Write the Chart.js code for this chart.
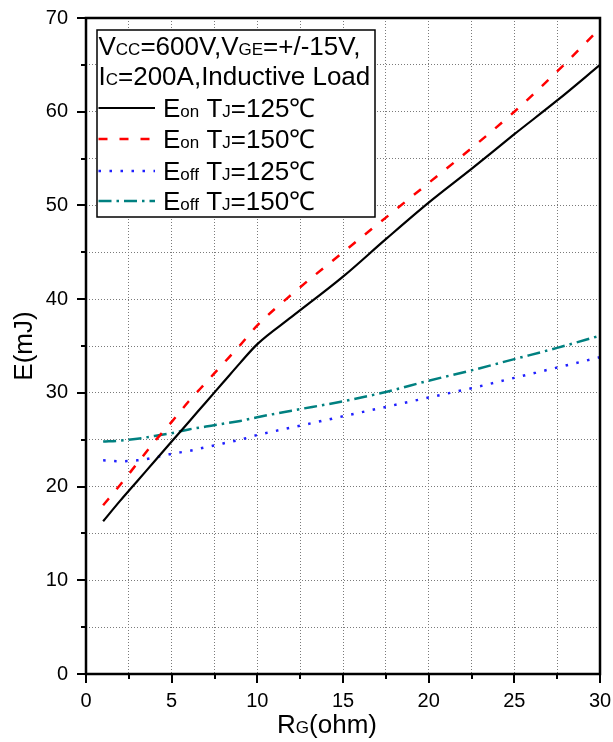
<!DOCTYPE html>
<html><head><meta charset="utf-8">
<script src="https://cdn.jsdelivr.net/npm/chart.js@4/dist/chart.umd.min.js"></script>
<style>html,body{margin:0;padding:0;background:#fff;overflow:hidden}canvas{display:block}</style>
</head><body>
<canvas id="c" width="613" height="742"></canvas>
<script>
// ---- data ----
const rg = [1, 2, 3, 4, 5, 6, 7, 8, 9, 10, 12, 15, 17.5, 20, 22.5, 25, 27.5, 30];
const eon125  = [16.3, 18.5, 20.6, 22.7, 24.8, 26.9, 29.0, 31.1, 33.2, 35.2, 38.1, 42.4, 46.4, 50.3, 53.9, 57.6, 61.2, 65.0];
const eon150  = [18.0, 20.2, 22.5, 24.8, 26.9, 29.1, 31.1, 33.1, 35.1, 37.2, 40.5, 45.0, 48.7, 52.4, 56.1, 60.0, 64.3, 68.9];
const eoff125 = [22.8, 22.7, 22.8, 23.1, 23.5, 23.8, 24.2, 24.6, 25.0, 25.5, 26.3, 27.5, 28.5, 29.5, 30.5, 31.6, 32.7, 33.8];
const eoff150 = [24.8, 24.9, 25.1, 25.4, 25.7, 26.1, 26.4, 26.7, 27.0, 27.4, 28.1, 29.1, 30.1, 31.3, 32.4, 33.6, 34.8, 36.1];
const seriesLabels = ['E{on} T{J}=125\u2103', 'E{on} T{J}=150\u2103', 'E{off} T{J}=125\u2103', 'E{off} T{J}=150\u2103'];
const legendTitle = ['V{CC}=600V,V{GE}=+/-15V,', 'I{C}=200A,Inductive Load'];
const xTitle = 'R{G}(ohm)';
const yTitle = 'E(mJ)';
const xMajorTicks = [0, 5, 10, 15, 20, 25, 30];
const yMajorTicks = [0, 10, 20, 30, 40, 50, 60, 70];

const FAM = '"Liberation Sans", Arial, Helvetica, sans-serif';

function pts(ys) { return rg.map((x, i) => ({ x: x, y: ys[i] })); }

function segs(str) {
  return str.split(/(\{[^}]*\})/).filter(s => s.length).map(s =>
    s[0] === '{' ? { t: s.slice(1, -1), small: true } : { t: s, small: false });
}
function richWidth(ctx, str, big, small) {
  let w = 0;
  for (const s of segs(str)) { ctx.font = (s.small ? small : big) + 'px ' + FAM; w += ctx.measureText(s.t).width; }
  return w;
}
function drawRich(ctx, str, x, y, big, small) {
  ctx.textBaseline = 'alphabetic'; ctx.textAlign = 'left';
  for (const s of segs(str)) {
    ctx.font = (s.small ? small : big) + 'px ' + FAM;
    ctx.fillText(s.t, x, y);
    x += ctx.measureText(s.t).width;
  }
  return x;
}

const decor = {
  id: 'decor',
  afterDatasetsDraw(chart) {
    const ctx = chart.ctx, a = chart.chartArea;
    const xs = chart.scales.x, ys = chart.scales.y;
    ctx.save();
    // frame
    ctx.strokeStyle = '#000'; ctx.lineWidth = 2.5;
    ctx.strokeRect(a.left, a.top, a.right - a.left, a.bottom - a.top);
    // tick marks (outward)
    ctx.lineWidth = 2;
    ctx.beginPath();
    for (let v = 0; v <= 30.001; v += 2.5) {
      const px = Math.round(xs.getPixelForValue(v));
      const len = (Math.abs(v % 5) < 1e-6) ? 9 : 5;
      ctx.moveTo(px, a.bottom); ctx.lineTo(px, a.bottom + len);
    }
    for (let v = 0; v <= 70.001; v += 5) {
      const py = Math.round(ys.getPixelForValue(v));
      const len = (Math.abs(v % 10) < 1e-6) ? 9 : 5;
      ctx.moveTo(a.left, py); ctx.lineTo(a.left - len, py);
    }
    ctx.stroke();

    // legend box
    const bx = a.left + 11, by = a.top + 12, bw = 278, bh = 187;
    ctx.fillStyle = '#fff';
    ctx.fillRect(bx, by, bw, bh);
    ctx.strokeStyle = '#000'; ctx.lineWidth = 1.5;
    ctx.strokeRect(bx, by, bw, bh);
    ctx.fillStyle = '#000';
    const base = [25, 55, 87, 118, 150, 180];
    legendTitle.forEach((t, i) => drawRich(ctx, t, bx + 1.5, by + base[i], 26, 17));
    chart.data.datasets.forEach((ds, i) => {
      const yb = by + base[i + 2];
      ctx.save();
      ctx.strokeStyle = ds.borderColor; ctx.lineWidth = ds.borderWidth;
      ctx.setLineDash(ds.borderDash || []);
      ctx.lineCap = 'butt';
      ctx.beginPath(); ctx.moveTo(bx + 1.5, yb - 9); ctx.lineTo(bx + 58, yb - 9); ctx.stroke();
      ctx.restore();
      ctx.fillStyle = '#000';
      drawRich(ctx, seriesLabels[i], bx + 66, yb, 26, 17);
    });

    // axis titles
    ctx.fillStyle = '#000';
    const xw = richWidth(ctx, xTitle, 26, 17);
    drawRich(ctx, xTitle, (a.left + a.right) / 2 - 16 - xw / 2, 733, 26, 17);
    ctx.save();
    ctx.translate(32, (a.top + a.bottom) / 2);
    ctx.rotate(-Math.PI / 2);
    const yw = richWidth(ctx, yTitle, 26, 17);
    drawRich(ctx, yTitle, -yw / 2, 0, 26, 17);
    ctx.restore();
    ctx.restore();
  }
};

const common = { fill: false, pointRadius: 0, pointHoverRadius: 0, cubicInterpolationMode: 'monotone', borderCapStyle: 'butt' };

new Chart(document.getElementById('c'), {
  type: 'line',
  data: {
    datasets: [
      Object.assign({ label: 'Eon TJ=125', data: pts(eon125), borderColor: '#000000', borderWidth: 2.2, borderDash: [] }, common),
      Object.assign({ label: 'Eon TJ=150', data: pts(eon150), borderColor: '#ff0000', borderWidth: 2.5, borderDash: [9, 12] }, common),
      Object.assign({ label: 'Eoff TJ=125', data: pts(eoff125), borderColor: '#2020ff', borderWidth: 2.5, borderDash: [2.5, 8.5] }, common),
      Object.assign({ label: 'Eoff TJ=150', data: pts(eoff150), borderColor: '#008080', borderWidth: 2.5, borderDash: [13, 5, 2.5, 5] }, common)
    ]
  },
  options: {
    responsive: false,
    animation: false,
    devicePixelRatio: 1,
    layout: { padding: { top: 18, right: 13, bottom: 0, left: 0 } },
    plugins: { legend: { display: false }, tooltip: { enabled: false }, title: { display: false } },
    scales: {
      x: {
        type: 'linear', min: 0, max: 30,
        afterBuildTicks(s) { const t = []; for (let v = 0; v <= 30.001; v += 2.5) t.push({ value: v }); s.ticks = t; },
        afterFit(s) { s.height = 68; s.paddingLeft = 0; s.paddingRight = 0; },
        ticks: {
          autoSkip: false, maxRotation: 0, padding: 15, color: '#000',
          font: { family: FAM, size: 20 },
          callback: v => xMajorTicks.includes(v) ? String(v) : ''
        },
        grid: { color: '#7a7a7a', lineWidth: 1, drawTicks: false },
        border: { display: false, dash: [1, 2] }
      },
      y: {
        type: 'linear', min: 0, max: 70,
        afterBuildTicks(s) { const t = []; for (let v = 0; v <= 70.001; v += 5) t.push({ value: v }); s.ticks = t; },
        afterFit(s) { s.width = 86; s.paddingTop = 0; s.paddingBottom = 0; },
        ticks: {
          autoSkip: false, padding: 18, color: '#000',
          font: { family: FAM, size: 20 },
          callback: v => yMajorTicks.includes(v) ? String(v) : ''
        },
        grid: { color: '#7a7a7a', lineWidth: 1, drawTicks: false },
        border: { display: false, dash: [1, 2] }
      }
    }
  },
  plugins: [decor]
});
</script>
</body></html>
